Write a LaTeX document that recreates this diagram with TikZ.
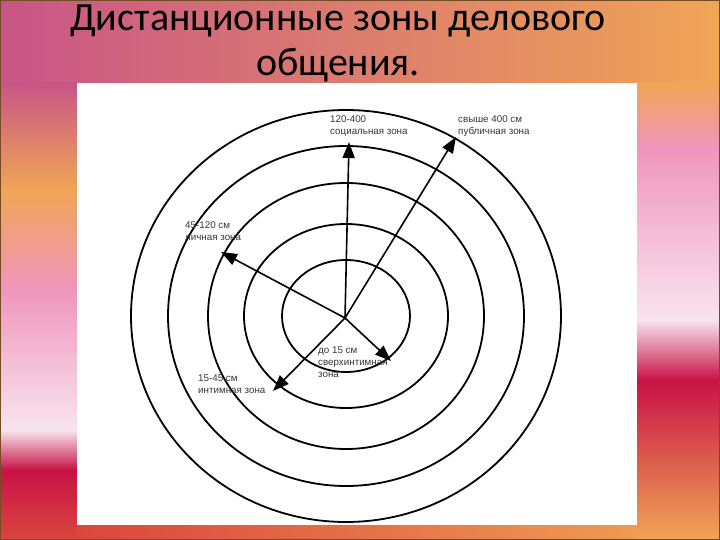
\documentclass[tikz,border=0pt]{standalone}
\usepackage{fontspec}
\setmainfont{Carlito}
\newfontfamily\labelfont{Liberation Sans}
\usetikzlibrary{arrows.meta}

\definecolor{bgmagenta}{RGB}{200,85,135}
\definecolor{bgorange}{RGB}{240,165,85}
\definecolor{bgpink}{RGB}{240,150,190}
\definecolor{bgpale}{RGB}{248,228,238}
\definecolor{bgcrimson}{RGB}{200,18,70}
\definecolor{bgred}{RGB}{218,70,62}
\definecolor{labelgray}{RGB}{55,55,55}

\begin{document}
\begin{tikzpicture}[x=1pt,y=-1pt,
		zone ring/.style={draw=black,line width=1.8pt},
		zone arrow/.style={draw=black,line width=1.6pt,-{Triangle[length=16pt,width=12pt]}},
		zone label/.style={anchor=west,align=left,inner sep=0pt,text=labelgray,
			font=\labelfont\fontsize{9.8}{12}\selectfont},
		title line/.style={anchor=base,inner sep=0pt,font=\fontsize{40}{46}\selectfont}]
		\useasboundingbox (0,0) rectangle (720,540);
		% background of the slide
		\shade[left color=bgmagenta,right color=bgorange] (0,0) rectangle (720,83);
		\shade[top color=bgmagenta,bottom color=bgorange] (0,83) rectangle (77,190);
		\shade[top color=bgorange,bottom color=bgpink] (0,190) rectangle (77,290);
		\shade[top color=bgpink,bottom color=bgpale] (0,290) rectangle (77,430);
		\shade[top color=bgpale,bottom color=bgcrimson] (0,430) rectangle (77,470);
		\shade[top color=bgcrimson,bottom color=bgred] (0,470) rectangle (77,540);
		\shade[top color=bgorange,bottom color=bgpink] (637,83) rectangle (720,150);
		\shade[top color=bgpink,bottom color=bgpale] (637,150) rectangle (720,320);
		\shade[top color=bgpale,bottom color=bgcrimson] (637,320) rectangle (720,380);
		\shade[top color=bgcrimson,bottom color=bgorange] (637,380) rectangle (720,540);
		\shade[left color=bgred,right color=bgorange!90!bgred] (77,525) rectangle (637,540);
		\draw[brown!60!black,line width=1pt] (0.5,0.5) rectangle (719.5,539.5);
		\fill[white] (77,83) rectangle (637,525);

		\node[title line] (title1) at (338,31) {Дистанционные зоны делового};
		\node[title line] (title2) at (338,76) {общения.};

		% rings
		\coordinate (mid) at (346,316);
		\draw[zone ring] (mid) ellipse [x radius=64pt,y radius=56pt];
		\draw[zone ring] (mid) ellipse [x radius=102pt,y radius=92pt];
		\draw[zone ring] (mid) ellipse [x radius=138pt,y radius=133pt];
		\draw[zone ring] (mid) ellipse [x radius=178pt,y radius=170pt];
		\draw[zone ring] (mid) ellipse [x radius=215pt,y radius=206pt];

		% arrows
		\coordinate (c) at (345,318);
		\coordinate (tsoc) at (349,142);
		\coordinate (tpub) at (456,137);
		\coordinate (tlich) at (221,252);
		\coordinate (tsver) at (391,361);
		\coordinate (tint) at (273,391);
		\draw[zone arrow] (c) -- (tsoc);
		\draw[zone arrow] (c) -- (tpub);
		\draw[zone arrow] (c) -- (tlich);
		\draw[zone arrow] (c) -- (tsver);
		\draw[zone arrow] (c) -- (tint);

		% labels
		\node[zone label] (soc) at (330,126) {120-400\\социальная зона};
		\node[zone label] (pub) at (458,126) {свыше 400 см\\публичная зона};
		\node[zone label] (lich) at (185,231) {45-120 см\\личная зона};
		\node[zone label] (sver) at (318,362) {до 15 см\\сверхинтимная\\зона};
		\node[zone label] (int) at (198,384) {15-45 см\\интимная зона};
\end{tikzpicture}
\end{document}
